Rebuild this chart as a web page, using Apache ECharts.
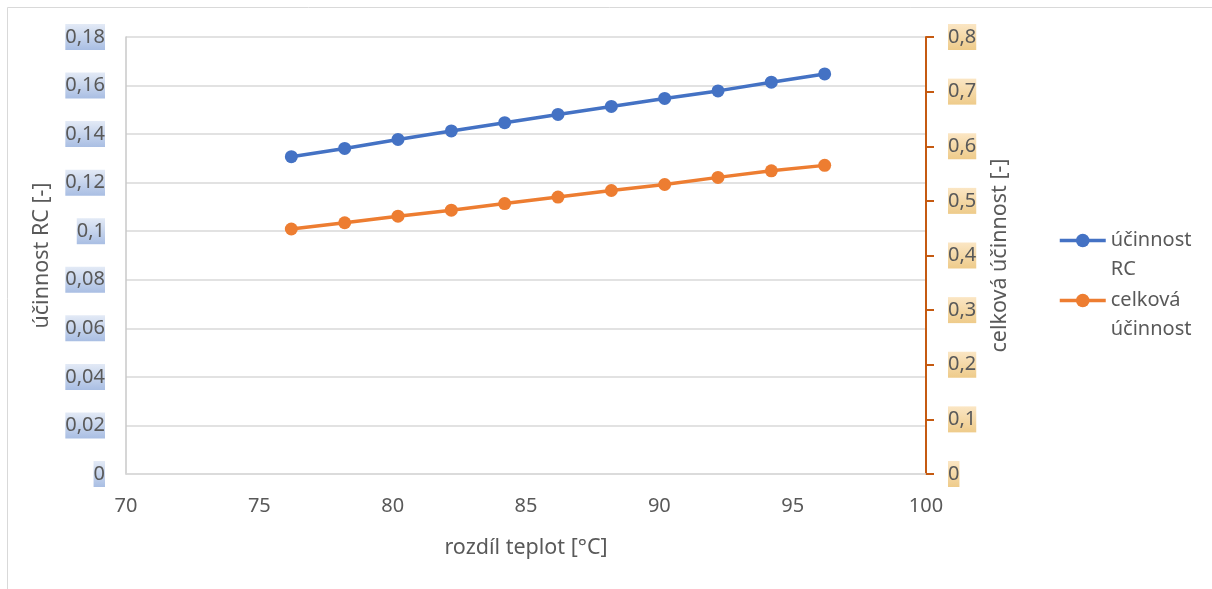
<!DOCTYPE html>
<html><head><meta charset="utf-8">
<script src="https://cdn.jsdelivr.net/npm/echarts@6/dist/echarts.min.js"></script>
<style>html,body{margin:0;padding:0;background:#fff}#c{width:1212px;height:589px}</style>
</head><body><div id="c"></div>
<script>
const xValues = [76.2, 78.2, 80.2, 82.2, 84.2, 86.2, 88.2, 90.2, 92.2, 94.2, 96.2];
const efficiencyRC = [0.1307, 0.1341, 0.1378, 0.1413, 0.1447, 0.1481, 0.1514, 0.1547, 0.1578, 0.1614, 0.1648];
const totalEfficiency = [0.4485, 0.460, 0.472, 0.483, 0.495, 0.507, 0.519, 0.530, 0.543, 0.555, 0.565];
const seriesNames = ['účinnost RC', 'celková účinnost'];
const legendLabels = {'účinnost RC': 'účinnost\nRC', 'celková účinnost': 'celková\núčinnost'};

const FONT = 'Noto Sans';
const TXT = '#595959';
const fmt = v => String(+v.toFixed(2)).replace('.', ',');
const blueBg = new echarts.graphic.LinearGradient(0, 0, 0, 1, [{offset: 0, color: '#e3eaf6'}, {offset: 1, color: '#a9bee3'}]);
const tanBg = new echarts.graphic.LinearGradient(0, 0, 0, 1, [{offset: 0, color: '#fbe6c4'}, {offset: 1, color: '#eecb8a'}]);

const chart = echarts.init(document.getElementById('c'), null, {renderer: 'canvas'});
chart.setOption({
  backgroundColor: '#fff',
  animation: false,
  textStyle: {fontFamily: FONT},
  graphic: [{
    type: 'polyline', silent: true,
    shape: {points: [[7.5, 589], [7.5, 7.5], [1212, 7.5]]},
    style: {stroke: '#d9d9d9', lineWidth: 1, fill: null}
  }],
  grid: {left: 126, right: 286, top: 37, bottom: 115},
  legend: {
    orient: 'vertical', left: 1058, top: 197, padding: 0,
    itemWidth: 46, itemHeight: 17, itemGap: -27, itemTextGap: 6,
    data: seriesNames,
    formatter: n => '\u200b\n' + legendLabels[n],
    lineStyle: {width: 3.5},
    textStyle: {fontFamily: FONT, fontSize: 20, color: TXT, lineHeight: 29}
  },
  xAxis: {
    type: 'value', min: 70, max: 100, interval: 5,
    name: 'rozdíl teplot [°C]', nameLocation: 'middle', nameGap: 63,
    nameTextStyle: {fontFamily: FONT, fontSize: 21.5, color: TXT},
    axisLine: {show: true, lineStyle: {color: '#d9d9d9', width: 1.5}},
    axisTick: {show: false},
    splitLine: {show: false},
    axisLabel: {fontFamily: FONT, fontSize: 20, color: TXT, margin: 22}
  },
  yAxis: [{
    type: 'value', min: 0, max: 0.18, interval: 0.02, position: 'left',
    name: 'účinnost RC [-]', nameLocation: 'middle', nameGap: 73, nameRotate: 90,
    nameTextStyle: {fontFamily: FONT, fontSize: 21.5, color: TXT},
    axisLine: {show: true, lineStyle: {color: '#c8c8c8', width: 1.5}},
    axisTick: {show: false},
    splitLine: {show: true, lineStyle: {color: '#d9d9d9', width: 1.5}},
    axisLabel: {fontFamily: FONT, fontSize: 20, color: TXT, margin: 21, formatter: fmt,
      backgroundColor: blueBg, padding: [3, 0, 3, 0]}
  }, {
    type: 'value', min: 0, max: 0.8, interval: 0.1, position: 'right',
    name: 'celková účinnost [-]', nameLocation: 'middle', nameGap: 63, nameRotate: 90,
    nameTextStyle: {fontFamily: FONT, fontSize: 21.5, color: TXT},
    axisLine: {show: true, lineStyle: {color: '#c55a11', width: 2}},
    axisTick: {show: true, inside: false, length: 8, lineStyle: {color: '#c55a11', width: 2}},
    splitLine: {show: false},
    axisLabel: {fontFamily: FONT, fontSize: 20, color: TXT, margin: 22, formatter: fmt,
      backgroundColor: tanBg, padding: [3, 0, 3, 0]}
  }],
  series: [{
    name: seriesNames[0], type: 'line', yAxisIndex: 0,
    data: xValues.map((x, i) => [x, efficiencyRC[i]]),
    symbol: 'circle', symbolSize: 13,
    lineStyle: {color: '#4472c4', width: 3.5},
    itemStyle: {color: '#4472c4'}
  }, {
    name: seriesNames[1], type: 'line', yAxisIndex: 1,
    data: xValues.map((x, i) => [x, totalEfficiency[i]]),
    symbol: 'circle', symbolSize: 13,
    lineStyle: {color: '#ed7d31', width: 3.5},
    itemStyle: {color: '#ed7d31'}
  }]
});
</script></body></html>
